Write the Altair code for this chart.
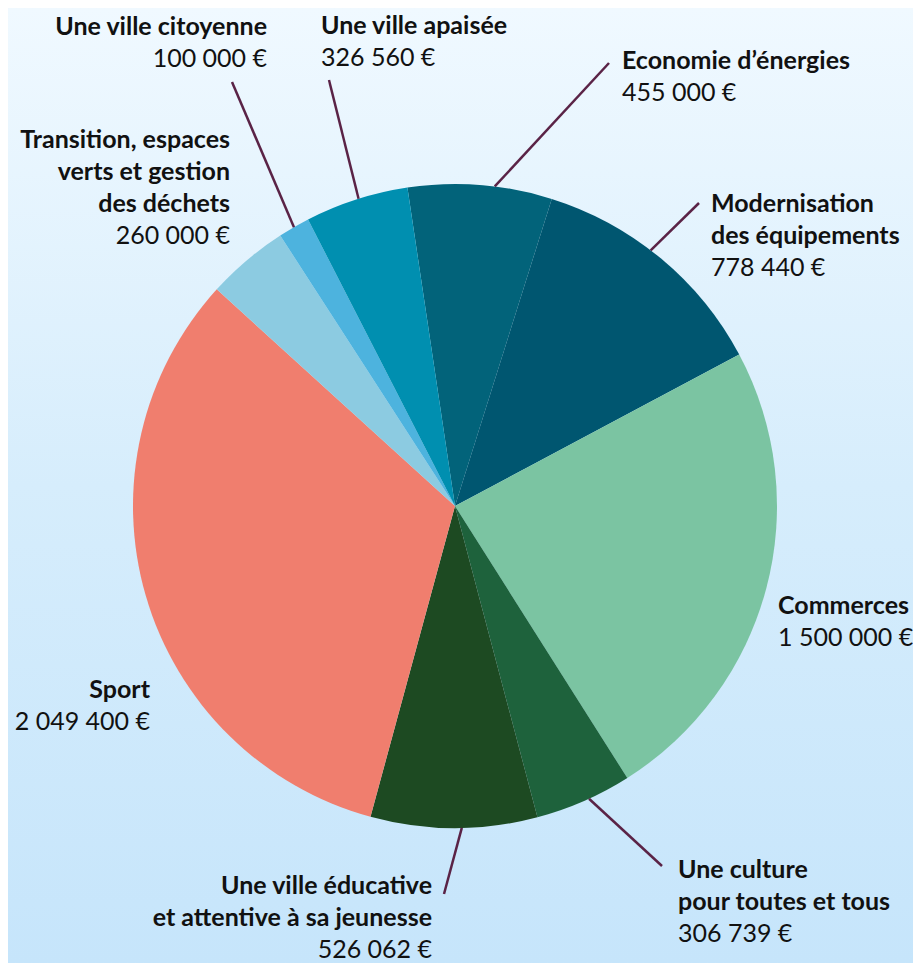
import math
import altair as alt
import pandas as pd

# ---- data ----
names = [
    "Economie d’énergies",
    "Modernisation\ndes équipements",
    "Commerces",
    "Une culture\npour toutes et tous",
    "Une ville éducative\net attentive à sa jeunesse",
    "Sport",
    "Transition, espaces\nverts et gestion\ndes déchets",
    "Une ville citoyenne",
    "Une ville apaisée",
]
amounts = [455000, 778440, 1500000, 306739, 526062, 2049400, 260000, 100000, 326560]
colors = ["#02637a", "#005670", "#7bc4a2", "#1e623c", "#1d4a22",
          "#f07e6e", "#8ccbe1", "#4db3de", "#008fb0"]

# ---- layout (annotation placement, chart pixels) ----
W, H = 905, 955
CX, CY, R = 447, 498, 322
START = math.radians(-8.5)
label_x = [614, 703, 770, 670, 424, 142, 222, 259, 313]
label_y = [53, 196, 598, 862, 878, 682, 132, 19, 18]
label_align = ["left", "left", "left", "left", "right", "right", "right", "right", "left"]
leader = [True, True, False, True, True, False, False, True, True]
leader_end = [(601, 55), (691, 195), None, (654, 858), (436, 886), None, None, (224, 74), (321, 72)]
leader_nudge = [2.6, -2.3, 0, -1.0, -1.4, 0, 0, 0, 0.4]
LINE_H = 32
FONT_SIZE = 25

def fmt(v):
    return f"{v:,}".replace(",", " ") + " €"

df = pd.DataFrame({"name": [n.replace("\n", " ") for n in names],
                   "amount": amounts, "ord": list(range(len(names)))})

total = sum(amounts)
rows_text = []
rows_lead = []
cum = 0
for i, (n, v) in enumerate(zip(names, amounts)):
    mid = START + 2 * math.pi * (cum + v / 2) / total + math.radians(leader_nudge[i])
    cum += v
    lines = n.split("\n")
    for k, ln in enumerate(lines):
        rows_text.append({"t": ln, "x": label_x[i], "y": label_y[i] + k * LINE_H,
                          "bold": 1, "align": label_align[i]})
    rows_text.append({"t": fmt(v), "x": label_x[i], "y": label_y[i] + len(lines) * LINE_H,
                      "bold": 0, "align": label_align[i]})
    if leader[i]:
        rows_lead.append({"x": CX + R * math.sin(mid), "y": CY - R * math.cos(mid),
                          "x2": leader_end[i][0], "y2": leader_end[i][1]})

tdf = pd.DataFrame(rows_text)
ldf = pd.DataFrame(rows_lead)

xs = alt.Scale(domain=[0, W], range=[0, W])
ys = alt.Scale(domain=[0, H], range=[0, H])

bg = alt.Chart(pd.DataFrame({"a": [0]})).mark_rect(
    fill=alt.LinearGradient(gradient="linear", x1=0, x2=0, y1=0, y2=1,
                            stops=[alt.GradientStop(color="#f0f9ff", offset=0),
                                   alt.GradientStop(color="#d6edfc", offset=0.5),
                                   alt.GradientStop(color="#c6e5fb", offset=1)])
).encode(x=alt.value(0), x2=alt.value(W), y=alt.value(0), y2=alt.value(H))

pie = alt.Chart(df).mark_arc(radius=R).encode(
    theta=alt.Theta("amount:Q", stack=True,
                    scale=alt.Scale(range=[START, START + 2 * math.pi])),
    color=alt.Color("name:N", scale=alt.Scale(domain=df["name"].tolist(), range=colors),
                    legend=None),
    order=alt.Order("ord:Q", sort="ascending"),
    x=alt.value(CX), y=alt.value(CY),
)

leads = alt.Chart(ldf).mark_rule(color="#5a2346", strokeWidth=2.5).encode(
    x=alt.X("x:Q", scale=xs, axis=None), y=alt.Y("y:Q", scale=ys, axis=None),
    x2="x2:Q", y2="y2:Q",
)

def txt(bold, align):
    return alt.Chart(tdf).transform_filter(
        (alt.datum.bold == bold) & (alt.datum.align == align)
    ).mark_text(
        font="Lato", fontSize=FONT_SIZE, fontWeight="bold" if bold else "normal",
        align=align, baseline="middle", color="#111111",
    ).encode(
        x=alt.X("x:Q", scale=xs, axis=None), y=alt.Y("y:Q", scale=ys, axis=None),
        text="t:N",
    )

chart = alt.layer(
    bg, pie, leads,
    txt(1, "left"), txt(1, "right"), txt(0, "left"), txt(0, "right"),
).properties(width=W, height=H, padding=0, autosize=alt.AutoSizeParams(type="none")
).configure_view(stroke=None)

chart.save("out.html", embed_options={"renderer": "svg", "actions": False})
